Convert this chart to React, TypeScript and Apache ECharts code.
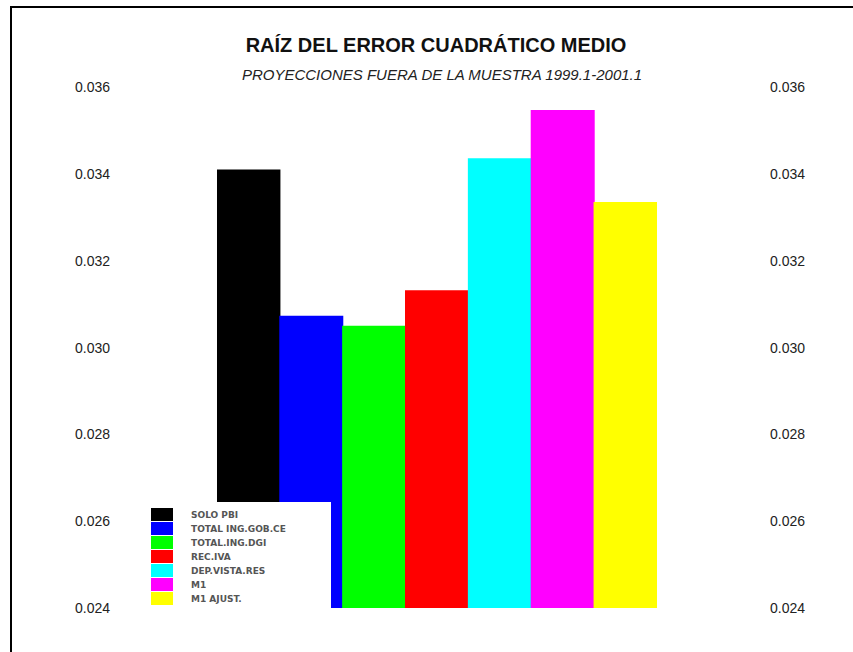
import React, { useEffect, useRef } from "react";
import * as echarts from "echarts";

// Root mean squared error for each model, out-of-sample 1999.1-2001.1
const models = [
  "SOLO PBI",
  "TOTAL ING.GOB.CE",
  "TOTAL.ING.DGI",
  "REC.IVA",
  "DEP.VISTA.RES",
  "M1",
  "M1 AJUST.",
];
const rmse = [0.0341, 0.03073, 0.0305, 0.03132, 0.03436, 0.03547, 0.03335];
const colors = ["#000000", "#0000ff", "#00ff00", "#ff0000", "#00ffff", "#ff00ff", "#ffff00"];

const yMin = 0.024;
const yMax = 0.036;
const yStep = 0.002;

const FONT = "'Liberation Sans', Arial, sans-serif";

export default function App() {
  const ref = useRef<HTMLDivElement>(null);

  useEffect(() => {
    document.body.style.margin = "0";
    if (!ref.current) return;
    const chart = echarts.init(ref.current, undefined, { renderer: "svg" });

    // one series per model so each gets its own legend entry; all share the category slots
    const series = models.map((name, i) => ({
      name,
      type: "bar",
      data: models.map((_, j) => (j === i ? rmse[i] : "-")),
      barWidth: 64,
      barGap: "-100%",
      itemStyle: { color: colors[i] },
      z: 2,
    }));

    const axisLabel = (margin: number) => ({
      fontFamily: FONT,
      fontSize: 14,
      color: "#222",
      margin,
      formatter: (v: number) => v.toFixed(3),
    });

    chart.setOption({
      animation: false,
      backgroundColor: "#ffffff",
      title: [
        {
          text: "RAÍZ DEL ERROR CUADRÁTICO MEDIO",
          left: 436,
          textAlign: "center",
          top: 35,
          padding: 0,
          textStyle: { fontFamily: FONT, fontSize: 20, fontWeight: "bold", color: "#111" },
        },
        {
          text: "PROYECCIONES FUERA DE LA MUESTRA 1999.1-2001.1",
          left: 442,
          textAlign: "center",
          top: 67,
          padding: 0,
          textStyle: { fontFamily: FONT, fontSize: 15, fontWeight: "normal", fontStyle: "italic", color: "#222" },
        },
      ],
      grid: { left: 217, right: 196, top: 87, bottom: 44 },
      xAxis: {
        type: "category",
        data: models,
        axisLine: { show: false },
        axisTick: { show: false },
        axisLabel: { show: false },
      },
      yAxis: [
        {
          type: "value",
          min: yMin,
          max: yMax,
          interval: yStep,
          position: "left",
          axisLine: { show: false },
          axisTick: { show: false },
          splitLine: { show: false },
          axisLabel: axisLabel(107),
        },
        {
          type: "value",
          min: yMin,
          max: yMax,
          interval: yStep,
          position: "right",
          axisLine: { show: false },
          axisTick: { show: false },
          splitLine: { show: false },
          axisLabel: axisLabel(113),
        },
      ],
      legend: {
        orient: "vertical",
        left: 151,
        top: 508,
        padding: 0,
        itemWidth: 22,
        itemHeight: 13,
        itemGap: 1,
        icon: "rect",
        z: 20,
        data: models,
        textStyle: {
          fontFamily: "'DejaVu Sans', sans-serif",
          fontSize: 9,
          fontWeight: "bold",
          color: "#555",
          padding: [0, 0, 0, 13],
        },
      },
      graphic: [
        {
          type: "rect",
          z: 10,
          shape: { x: 140, y: 502, width: 191, height: 113 },
          style: { fill: "#ffffff" },
          silent: true,
        },
        {
          type: "rect",
          z: 30,
          shape: { x: 11, y: 7, width: 1000, height: 1000 },
          style: { fill: "none", stroke: "#000", lineWidth: 2 },
          silent: true,
        },
      ],
      series,
    });

    return () => chart.dispose();
  }, []);

  return <div ref={ref} style={{ width: 853, height: 652 }} />;
}
